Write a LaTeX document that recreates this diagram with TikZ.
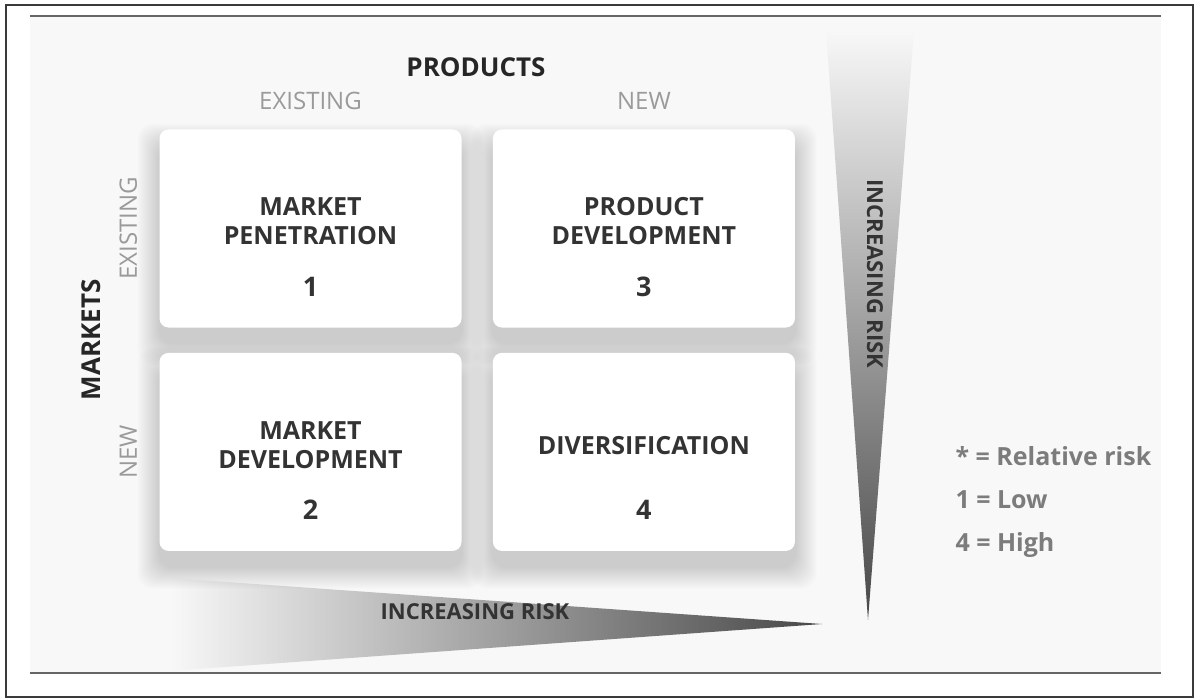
\documentclass[tikz,border=0pt]{standalone}
\usepackage{fontspec}
\setmainfont{Open Sans}
\usepackage{tikz}
\usetikzlibrary{positioning, backgrounds}

\definecolor{boxtext}{HTML}{333333}
\definecolor{sublab}{HTML}{9A9A9A}
\definecolor{legendgray}{HTML}{7C7C7C}
\definecolor{panel}{HTML}{F8F8F8}
\definecolor{framegray}{HTML}{3A3A3A}

\begin{document}
\begin{tikzpicture}[
    x=1pt, y=-1pt,
    cell/.style    = {fill=white, rounded corners=9pt, minimum width=302pt, minimum height=198pt},
    softshadow/.style = {black, opacity=0.009, rounded corners=16pt},
    title/.style   = {align=center, text=boxtext, font=\fontsize{25}{29}\selectfont\bfseries},
    num/.style     = {text=boxtext, font=\fontsize{27}{30}\selectfont\bfseries},
    axis/.style    = {text=black!85, font=\fontsize{26}{30}\selectfont\bfseries},
    sublab/.style  = {text=sublab, font=\fontsize{24}{28}\selectfont},
    risk/.style    = {text=black!80, font=\fontsize{22}{26}\selectfont\bfseries},
    legend/.style  = {anchor=base west, text=legendgray, font=\fontsize{25}{29}\selectfont\bfseries},
  ]
  \useasboundingbox (0,0) rectangle (1196,698);

  % the four cells
  \node[cell] (pen) at (310.5,228.5) {};
  \node[cell, right=31pt of pen] (pdev) {};
  \node[cell, below=25pt of pen] (mdev) {};
  \node[cell, below=25pt of pdev] (divers) {};

  \begin{pgfonlayer}{background}
    % frame and panel
    \draw[framegray, line width=2pt] (6,5) rectangle (1193,697);
    \fill[panel] (30,16) rectangle (1161,673);
    \draw[black!60, line width=1.6pt] (30,16) -- (1161,16);
    \draw[black!60, line width=1.2pt] (30,673) -- (1161,673);
    % risk wedges
    \shade[left color=panel, middle color=black!14, right color=black!72]
      (170,578) -- (822,624) -- (170,671) -- cycle;
    \shade[top color=panel, middle color=black!17, bottom color=black!72]
      (826,30) -- (914,30) -- (868,620) -- cycle;
    % shadows under the cells
    \foreach \c in {pen,pdev,mdev,divers}
      \foreach \k in {1,...,22}
        \fill[softshadow] ([xshift=-\k pt, yshift=-16pt+\k pt] \c.north west)
          rectangle ([xshift=\k pt, yshift=-16pt-\k pt] \c.south east);
  \end{pgfonlayer}

  \node[title] (pentxt) at ([yshift=7pt] pen.center) {MARKET\\PENETRATION};
  \node[num] (pennum) at ([yshift=41pt] pen.south) {1};
  \node[title] (pdevtxt) at ([yshift=7pt] pdev.center) {PRODUCT\\DEVELOPMENT};
  \node[num] (pdevnum) at ([yshift=41pt] pdev.south) {3};
  \node[title] (mdevtxt) at ([yshift=7pt] mdev.center) {MARKET\\DEVELOPMENT};
  \node[num] (mdevnum) at ([yshift=41pt] mdev.south) {2};
  \node[title] (diverstxt) at ([yshift=6pt] divers.center) {DIVERSIFICATION};
  \node[num] (diversnum) at ([yshift=41pt] divers.south) {4};

  % axes
  \node[axis] (products) at (476,67) {PRODUCTS};
  \node[sublab] (pexist) at ([yshift=28pt] pen.north) {EXISTING};
  \node[sublab] (pnew) at ([yshift=28pt] pdev.north) {NEW};
  \node[axis, rotate=90] (markets) at (91,340) {MARKETS};
  \node[sublab, rotate=90] (mexist) at ([xshift=-31pt] pen.west) {EXISTING};
  \node[sublab, rotate=90] (mnew) at ([xshift=-31pt] mdev.west) {NEW};

  \node[risk] (hrisk) at (475,612) {INCREASING RISK};
  \node[risk, rotate=-90] (vrisk) at (875,274) {INCREASING RISK};

  % legend
  \node[legend] (leg1) at (952,465) {* = Relative risk};
  \node[legend] (leg2) at (952,508) {1 = Low};
  \node[legend] (leg3) at (952,551) {4 = High};
\end{tikzpicture}
\end{document}
